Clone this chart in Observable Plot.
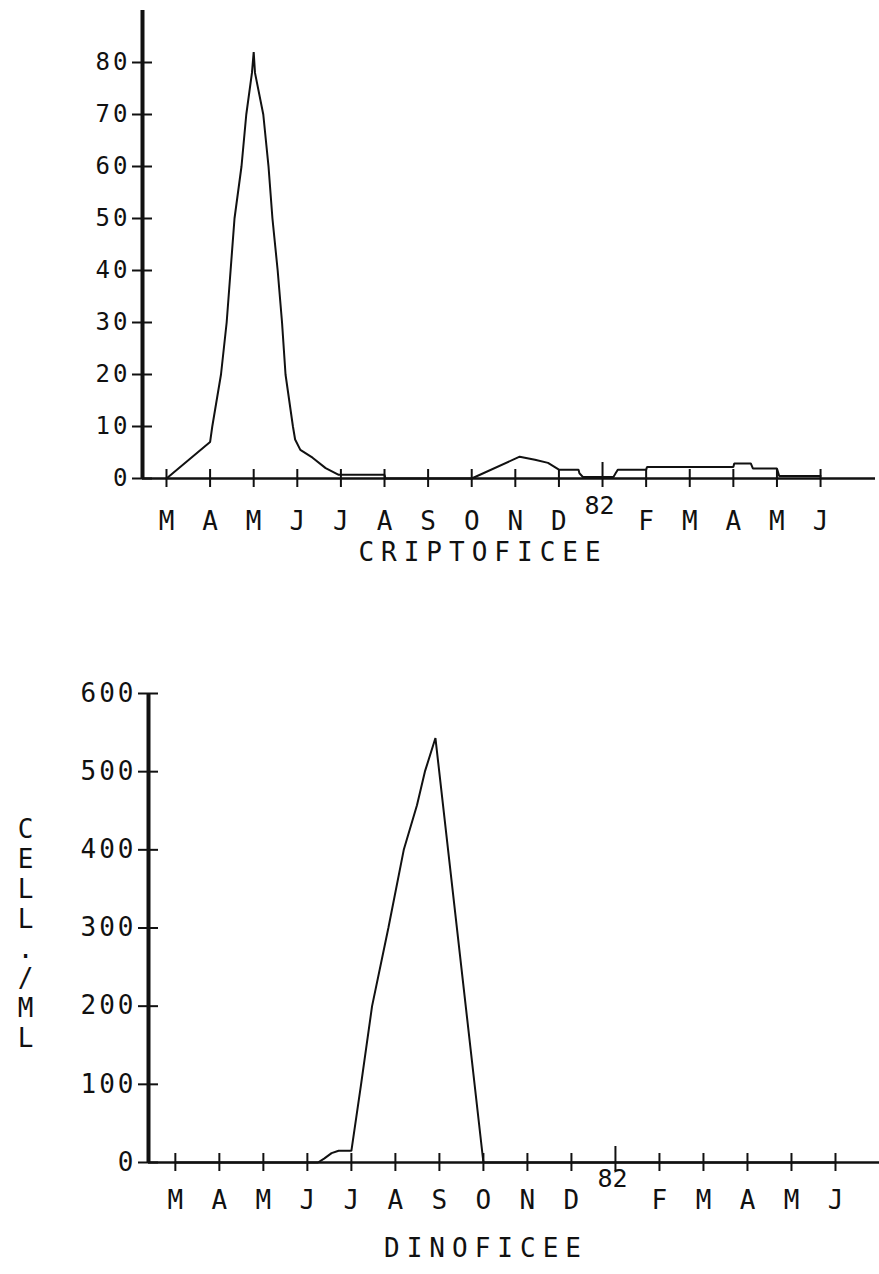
<!DOCTYPE html>
<html>
<head>
<meta charset="utf-8">
<script src="https://cdn.jsdelivr.net/npm/d3@7"></script>
<script src="https://cdn.jsdelivr.net/npm/@observablehq/plot@0.6"></script>
<style>
  body { margin: 0; background: #fff; }
  #chart svg { display: block; }
  text[aria-label="panel title"] { letter-spacing: 7px; }
  g[aria-label="y-axis tick label"] text { letter-spacing: 3px; }
</style>
</head>
<body>
<div id="chart"></div>
<script>
// Months from March 1981 to June 1982; January is marked by the year "82".
const months = ["M", "A", "M", "J", "J", "A", "S", "O", "N", "D", "82", "F", "M", "A", "M", "J"];
const monthPos = months.map((_, i) => i);
const yearTick = 10;

// Cryptophyceae (cells/ml), position in months from March 1981
const criptoT = [0, 1, 1.05, 1.25, 1.38, 1.47, 1.56, 1.72, 1.83, 1.96, 2, 2.03, 2.22, 2.34, 2.43, 2.55, 2.65, 2.73, 2.9, 2.95, 3.07, 3.35, 3.65, 3.95, 5, 5.02, 7, 8.1, 8.45, 8.75, 9, 9.45, 9.47, 9.55, 10, 10.25, 10.3, 10.35, 11, 11.02, 13, 13.02, 13.4, 13.45, 14, 14.05, 15];
const criptoV = [0, 7, 10, 20, 30, 40, 50, 60, 70, 78, 82, 78, 70, 60, 50, 40, 30, 20, 10, 7.5, 5.5, 4, 2, 0.7, 0.7, 0, 0, 4.2, 3.6, 3.0, 1.7, 1.7, 1.0, 0.3, 0.3, 0.3, 1.0, 1.7, 1.7, 2.2, 2.2, 2.9, 2.9, 1.9, 1.9, 0.5, 0.5];

// Dinophyceae (cells/ml)
const dinoT = [0, 3.24, 3.38, 3.55, 3.71, 4, 4.22, 4.47, 4.84, 5.19, 5.49, 5.67, 5.91, 7, 15];
const dinoV = [0, 0, 5, 12, 15, 15, 100, 200, 300, 400, 457, 500, 543, 0, 0];

const criptoTicks = [0, 10, 20, 30, 40, 50, 60, 70, 80];
const dinoTicks = [0, 100, 200, 300, 400, 500, 600];

const criptoTitle = "CRIPTOFICEE";
const dinoTitle = "DINOFICEE";
const unitLabel = "CELL./ML";

function panel(o) {
  const data = o.t.map((t, i) => ({t, v: o.v[i]}));
  const x0 = o.xDomain[0];
  const marks = [
    // y axis line and crossing ticks
    Plot.ruleX([x0], {strokeWidth: 4, stroke: "#111"}),
    Plot.ruleY(o.yTicks, {x1: x0, x2: x0, insetLeft: -10, insetRight: -10, strokeWidth: 2, stroke: "#111"}),
    Plot.axisY({ticks: o.yTicks, tickSize: 0, tickPadding: o.yPad, fontSize: o.yFont, label: null}),
    // x axis line and crossing month ticks (January drawn taller)
    Plot.ruleY([0], {strokeWidth: 2.5, stroke: "#111"}),
    Plot.ruleX(monthPos.filter(i => i !== yearTick), {y1: 0, y2: 0, insetTop: -9, insetBottom: -9, strokeWidth: 2, stroke: "#111"}),
    Plot.ruleX([yearTick], {y1: 0, y2: 0, insetTop: -16, insetBottom: -9, strokeWidth: 2, stroke: "#111"}),
    Plot.axisX({ticks: monthPos, tickFormat: i => i === yearTick ? "" : months[i], tickSize: 0, tickPadding: o.xPad, fontSize: 26, label: null}),
    Plot.text([yearTick], {x: d => d, text: d => months[d], frameAnchor: "bottom", dx: -3, dy: o.yearDy, fontSize: 25, fill: "#111"}),
    Plot.text([o.title], {frameAnchor: "bottom", dx: o.titleDx, dy: o.titleDy, fontSize: 26, fill: "#111", ariaLabel: () => "panel title"}),
    // series
    Plot.line(data, {x: "t", y: "v", stroke: "#111", strokeWidth: 2, strokeLinejoin: "miter"})
  ];
  if (o.yLabel) {
    marks.push(Plot.text([o.yLabel], {
      text: d => d.split("").join("\n"),
      frameAnchor: "left", textAnchor: "middle", dx: -123, dy: 5,
      fontSize: 26, lineHeight: 1.15, fill: "#111"
    }));
  }
  return Plot.plot({
    width: 879,
    height: o.height,
    marginTop: o.marginTop,
    marginBottom: o.marginBottom,
    marginLeft: o.marginLeft,
    marginRight: o.marginRight,
    x: {domain: o.xDomain},
    y: {domain: o.yDomain},
    style: {fontFamily: "'DejaVu Sans Mono', monospace", background: "#fff", color: "#111", overflow: "visible"},
    marks
  });
}

const chart = document.getElementById("chart");
chart.append(panel({
  t: criptoT, v: criptoV, yTicks: criptoTicks, title: criptoTitle,
  height: 590, marginTop: 10, marginBottom: 112, marginLeft: 142, marginRight: 4,
  xDomain: [-0.55, 16.26], yDomain: [0, 90],
  yFont: 24, yPad: 12, xPad: 33, yearDy: 35, titleDx: -26, titleDy: 82
}));
chart.append(panel({
  t: dinoT, v: dinoV, yTicks: dinoTicks, title: dinoTitle, yLabel: unitLabel,
  height: 684, marginTop: 103, marginBottom: 112, marginLeft: 148, marginRight: 0,
  xDomain: [-0.61, 16.0], yDomain: [0, 600],
  yFont: 26, yPad: 12, xPad: 28, yearDy: 24, titleDx: -28, titleDy: 94
}));
</script>
</body>
</html>
